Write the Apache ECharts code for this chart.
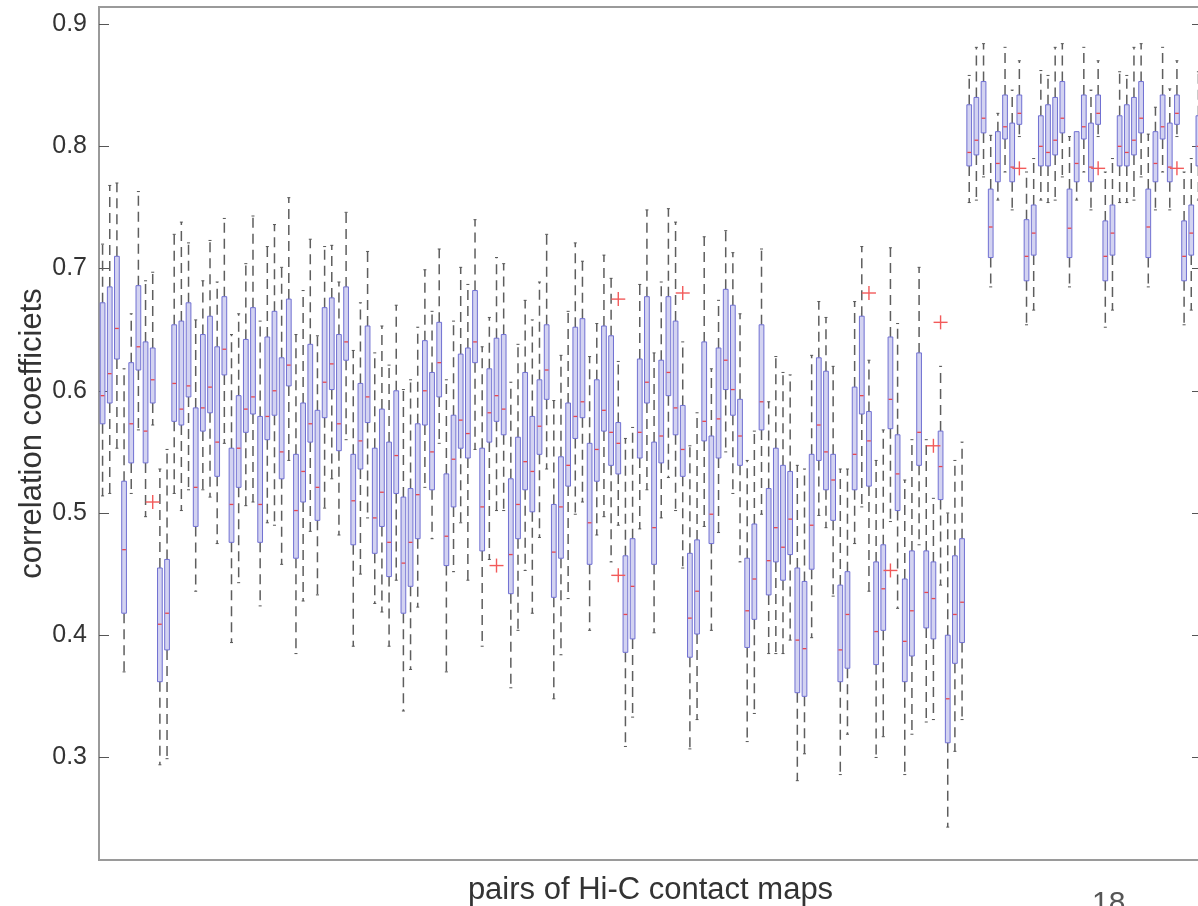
<!DOCTYPE html>
<html>
<head>
<meta charset="utf-8">
<title>correlation coefficients of Hi-C contact map pairs</title>
<script src="https://cdn.jsdelivr.net/npm/echarts@6/dist/echarts.min.js"></script>
<style>
  html, body { margin: 0; padding: 0; background: #fff; }
  #chart { width: 1198px; height: 906px; }
</style>
</head>
<body>
<div id="chart"></div>
<script>
// box statistics per pair of contact maps
const whiskerLow = [
  0.514, 0.516, 0.553, 0.370, 0.516, 0.568, 0.497, 0.572, 0.294, 0.299,
  0.516, 0.502, 0.519, 0.436, 0.519, 0.513, 0.475, 0.557, 0.394, 0.443,
  0.506, 0.509, 0.424, 0.492, 0.490, 0.458, 0.543, 0.385, 0.428, 0.485,
  0.433, 0.504, 0.528, 0.482, 0.560, 0.391, 0.450, 0.496, 0.426, 0.419,
  0.391, 0.445, 0.338, 0.372, 0.423, 0.521, 0.479, 0.557, 0.370, 0.452,
  0.492, 0.445, 0.552, 0.391, 0.462, 0.502, 0.502, 0.357, 0.404, 0.453,
  0.418, 0.480, 0.536, 0.348, 0.384, 0.430, 0.499, 0.509, 0.404, 0.482,
  0.497, 0.460, 0.490, 0.309, 0.333, 0.487, 0.519, 0.402, 0.496, 0.529,
  0.502, 0.455, 0.307, 0.331, 0.489, 0.404, 0.484, 0.550, 0.516, 0.460,
  0.313, 0.336, 0.499, 0.385, 0.385, 0.385, 0.396, 0.281, 0.303, 0.398,
  0.498, 0.488, 0.432, 0.286, 0.319, 0.475, 0.505, 0.436, 0.300, 0.317,
  0.493, 0.422, 0.286, 0.319, 0.474, 0.329, 0.331, 0.441, 0.243, 0.305, 0.331,
  0.754, 0.756, 0.775, 0.685, 0.756, 0.779, 0.748, 0.808, 0.654, 0.666, 0.756,
  0.754, 0.756, 0.775, 0.685, 0.756, 0.779, 0.748, 0.808, 0.652, 0.666, 0.754,
  0.754, 0.756, 0.775, 0.685, 0.748, 0.779, 0.748, 0.808, 0.654, 0.666, 0.756
]
const q1 = [
  0.573, 0.590, 0.626, 0.418, 0.541, 0.617, 0.541, 0.590, 0.362, 0.388,
  0.575, 0.572, 0.595, 0.489, 0.567, 0.582, 0.530, 0.613, 0.476, 0.521,
  0.566, 0.581, 0.476, 0.560, 0.580, 0.528, 0.604, 0.463, 0.509, 0.558,
  0.494, 0.578, 0.601, 0.551, 0.625, 0.474, 0.536, 0.574, 0.467, 0.489,
  0.448, 0.516, 0.418, 0.440, 0.479, 0.572, 0.519, 0.595, 0.457, 0.505,
  0.553, 0.545, 0.623, 0.469, 0.558, 0.575, 0.564, 0.434, 0.479, 0.519,
  0.501, 0.548, 0.593, 0.431, 0.463, 0.522, 0.561, 0.578, 0.458, 0.526,
  0.567, 0.539, 0.532, 0.386, 0.397, 0.545, 0.590, 0.458, 0.541, 0.596,
  0.564, 0.530, 0.382, 0.401, 0.559, 0.475, 0.545, 0.601, 0.580, 0.539,
  0.390, 0.413, 0.568, 0.433, 0.460, 0.445, 0.466, 0.353, 0.350, 0.454,
  0.543, 0.519, 0.494, 0.362, 0.373, 0.519, 0.581, 0.522, 0.376, 0.404,
  0.569, 0.502, 0.362, 0.383, 0.539, 0.406, 0.397, 0.511, 0.312, 0.377, 0.394,
  0.784, 0.793, 0.811, 0.709, 0.771, 0.806, 0.771, 0.818, 0.690, 0.711, 0.784,
  0.784, 0.793, 0.811, 0.709, 0.771, 0.806, 0.771, 0.818, 0.690, 0.711, 0.784,
  0.784, 0.793, 0.811, 0.709, 0.771, 0.806, 0.771, 0.818, 0.690, 0.711, 0.784
]
const median = [
  0.596, 0.614, 0.651, 0.470, 0.573, 0.636, 0.567, 0.609, 0.409, 0.418,
  0.606, 0.585, 0.604, 0.521, 0.586, 0.603, 0.558, 0.634, 0.507, 0.553,
  0.585, 0.595, 0.507, 0.579, 0.600, 0.550, 0.621, 0.502, 0.534, 0.573,
  0.521, 0.607, 0.622, 0.573, 0.640, 0.510, 0.559, 0.595, 0.496, 0.517,
  0.476, 0.547, 0.459, 0.476, 0.515, 0.600, 0.550, 0.623, 0.481, 0.544,
  0.576, 0.565, 0.640, 0.505, 0.582, 0.596, 0.585, 0.466, 0.507, 0.542,
  0.534, 0.571, 0.617, 0.468, 0.505, 0.539, 0.579, 0.591, 0.492, 0.552,
  0.584, 0.566, 0.557, 0.417, 0.440, 0.566, 0.607, 0.488, 0.563, 0.615,
  0.586, 0.552, 0.414, 0.436, 0.575, 0.499, 0.577, 0.625, 0.601, 0.563,
  0.420, 0.446, 0.591, 0.461, 0.488, 0.472, 0.495, 0.396, 0.389, 0.490,
  0.572, 0.550, 0.527, 0.388, 0.417, 0.548, 0.596, 0.559, 0.403, 0.438,
  0.593, 0.532, 0.395, 0.420, 0.566, 0.435, 0.430, 0.538, 0.348, 0.417, 0.427,
  0.795, 0.805, 0.823, 0.734, 0.786, 0.816, 0.783, 0.827, 0.710, 0.729, 0.800,
  0.795, 0.805, 0.823, 0.733, 0.786, 0.816, 0.783, 0.827, 0.710, 0.729, 0.800,
  0.795, 0.805, 0.823, 0.734, 0.786, 0.816, 0.783, 0.827, 0.710, 0.729, 0.800
]
const q3 = [
  0.672, 0.685, 0.710, 0.526, 0.623, 0.686, 0.640, 0.635, 0.455, 0.462,
  0.654, 0.657, 0.672, 0.586, 0.646, 0.661, 0.636, 0.677, 0.553, 0.596,
  0.642, 0.668, 0.579, 0.644, 0.665, 0.627, 0.675, 0.548, 0.590, 0.638,
  0.584, 0.668, 0.676, 0.646, 0.685, 0.548, 0.606, 0.653, 0.553, 0.585,
  0.558, 0.600, 0.513, 0.520, 0.573, 0.641, 0.615, 0.656, 0.532, 0.580,
  0.630, 0.635, 0.682, 0.553, 0.618, 0.643, 0.646, 0.528, 0.562, 0.615,
  0.579, 0.609, 0.654, 0.507, 0.546, 0.590, 0.652, 0.659, 0.557, 0.609,
  0.653, 0.645, 0.574, 0.465, 0.479, 0.626, 0.677, 0.558, 0.625, 0.677,
  0.657, 0.588, 0.467, 0.478, 0.640, 0.563, 0.635, 0.683, 0.670, 0.593,
  0.463, 0.491, 0.654, 0.520, 0.553, 0.539, 0.534, 0.455, 0.444, 0.548,
  0.627, 0.616, 0.548, 0.441, 0.452, 0.603, 0.661, 0.583, 0.460, 0.474,
  0.644, 0.564, 0.446, 0.469, 0.631, 0.469, 0.460, 0.567, 0.400, 0.465, 0.479,
  0.834, 0.840, 0.853, 0.765, 0.812, 0.842, 0.819, 0.842, 0.740, 0.752, 0.825,
  0.834, 0.840, 0.853, 0.765, 0.812, 0.842, 0.819, 0.842, 0.739, 0.752, 0.825,
  0.834, 0.840, 0.853, 0.765, 0.812, 0.842, 0.819, 0.842, 0.739, 0.752, 0.825
]
const whiskerHigh = [
  0.720, 0.768, 0.770, 0.618, 0.663, 0.763, 0.690, 0.697, 0.536, 0.552,
  0.728, 0.738, 0.721, 0.658, 0.690, 0.723, 0.689, 0.741, 0.646, 0.663,
  0.704, 0.743, 0.657, 0.718, 0.736, 0.701, 0.758, 0.646, 0.682, 0.724,
  0.645, 0.718, 0.719, 0.689, 0.746, 0.633, 0.672, 0.714, 0.631, 0.653,
  0.621, 0.670, 0.601, 0.609, 0.652, 0.699, 0.665, 0.716, 0.609, 0.657,
  0.701, 0.687, 0.740, 0.636, 0.660, 0.709, 0.704, 0.607, 0.638, 0.674,
  0.658, 0.689, 0.728, 0.592, 0.629, 0.665, 0.721, 0.706, 0.628, 0.655,
  0.711, 0.692, 0.624, 0.561, 0.570, 0.687, 0.748, 0.631, 0.689, 0.749,
  0.738, 0.640, 0.555, 0.582, 0.726, 0.618, 0.674, 0.731, 0.713, 0.663,
  0.543, 0.567, 0.716, 0.591, 0.628, 0.615, 0.613, 0.539, 0.536, 0.629,
  0.673, 0.660, 0.620, 0.536, 0.536, 0.673, 0.718, 0.625, 0.543, 0.568,
  0.717, 0.655, 0.527, 0.560, 0.701, 0.560, 0.512, 0.620, 0.500, 0.543, 0.558,
  0.858, 0.881, 0.884, 0.809, 0.827, 0.881, 0.846, 0.870, 0.779, 0.790, 0.862,
  0.858, 0.881, 0.884, 0.808, 0.810, 0.881, 0.846, 0.870, 0.779, 0.790, 0.861,
  0.858, 0.881, 0.884, 0.810, 0.832, 0.881, 0.847, 0.870, 0.779, 0.790, 0.861
]
// [pair number, value]
const outliers = [
  [8, 0.509], [56, 0.457], [73, 0.675], [73, 0.449], [82, 0.680], [108, 0.680],
  [111, 0.453], [117, 0.555], [118, 0.656], [129, 0.782], [140, 0.782], [151, 0.782]
]
const yTicks = [0.3, 0.4, 0.5, 0.6, 0.7, 0.8, 0.9]
const pairs = whiskerLow.map((_, i) => String(i + 1))

const FONT = '"Liberation Sans", Arial, Helvetica, sans-serif'

const boxData = pairs.map((_, i) => [i, whiskerLow[i], q1[i], median[i], q3[i], whiskerHigh[i]])
const outlierData = outliers.map(o => [o[0] - 1, o[1]])

// draws one matlab-style box: dashed whiskers, tiny caps, box, red median
function renderBox(params, api) {
  const idx = api.value(0)
  const band = api.size([1, 0])[0]
  const w = band * 0.66
  const low = api.coord([idx, api.value(1)])
  const b1 = api.coord([idx, api.value(2)])
  const med = api.coord([idx, api.value(3)])
  const b3 = api.coord([idx, api.value(4)])
  const high = api.coord([idx, api.value(5)])
  const x = b1[0]
  const dash = { stroke: '#5e5e5e', lineWidth: 1.5, lineDash: [10, 6] }
  const cap = { stroke: '#555', lineWidth: 1 }
  return {
    type: 'group',
    children: [
      { type: 'line', shape: { x1: x, y1: b3[1], x2: x, y2: high[1] }, style: dash },
      { type: 'line', shape: { x1: x, y1: b1[1], x2: x, y2: low[1] }, style: dash },
      { type: 'line', shape: { x1: x - 1.5, y1: high[1], x2: x + 1.5, y2: high[1] }, style: cap },
      { type: 'line', shape: { x1: x - 1.5, y1: low[1], x2: x + 1.5, y2: low[1] }, style: cap },
      {
        type: 'rect',
        shape: { x: x - w / 2, y: b3[1], width: w, height: b1[1] - b3[1] },
        style: { fill: '#d3d3f1', stroke: '#7070d2', lineWidth: 1 }
      },
      {
        type: 'line',
        shape: { x1: x - w / 2 + 0.5, y1: med[1], x2: x + w / 2 - 0.5, y2: med[1] },
        style: { stroke: '#e8484f', lineWidth: 1.3 }
      }
    ]
  }
}

function renderOutlier(params, api) {
  const p = api.coord([api.value(0), api.value(1)])
  const r = 7
  const st = { stroke: '#f25a5a', lineWidth: 1.4 }
  return {
    type: 'group',
    children: [
      { type: 'line', shape: { x1: p[0] - r, y1: p[1], x2: p[0] + r, y2: p[1] }, style: st },
      { type: 'line', shape: { x1: p[0], y1: p[1] - r, x2: p[0], y2: p[1] + r }, style: st }
    ]
  }
}

const chart = echarts.init(document.getElementById('chart'))

const option = {
  backgroundColor: '#fff',
  animation: false,
  grid: {
    left: 99,
    top: 7,
    width: 1103,
    bottom: 46,
    outerBoundsMode: 'none',
    containLabel: false,
    show: true,
    borderColor: '#9a9a9a',
    borderWidth: 2
  },
  xAxis: {
    type: 'category',
    data: pairs,
    boundaryGap: true,
    axisLine: { show: false },
    axisTick: { show: false },
    axisLabel: { show: false },
    splitLine: { show: false },
    name: 'pairs of Hi-C contact maps',
    nameLocation: 'middle',
    nameGap: 15,
    nameTextStyle: { fontFamily: FONT, fontSize: 31, color: '#333' }
  },
  yAxis: [
    {
      type: 'value',
      position: 'left',
      min: 0.2161,
      max: 0.914,
      axisLine: { show: false },
      axisTick: { show: true, inside: true, length: 10, customValues: yTicks, lineStyle: { color: '#555', width: 1 } },
      axisLabel: {
        customValues: yTicks,
        formatter: v => v.toFixed(1),
        fontFamily: FONT,
        fontSize: 25,
        color: '#333',
        margin: 12
      },
      splitLine: { show: false },
      name: 'correlation coefficiets',
      nameLocation: 'middle',
      nameMoveOverlap: false,
      nameGap: 51,
      nameTextStyle: { fontFamily: FONT, fontSize: 31, color: '#333' }
    },
    {
      type: 'value',
      position: 'right',
      min: 0.2161,
      max: 0.914,
      axisLine: { show: false },
      axisTick: { show: true, inside: true, length: 10, customValues: yTicks, lineStyle: { color: '#555', width: 1 } },
      axisLabel: { show: false },
      splitLine: { show: false }
    }
  ],
  series: [
    {
      type: 'custom',
      name: 'boxes',
      renderItem: renderBox,
      encode: { x: 0, y: [1, 2, 3, 4, 5] },
      data: boxData,
      z: 2
    },
    {
      type: 'custom',
      name: 'outliers',
      renderItem: renderOutlier,
      encode: { x: 0, y: 1 },
      data: outlierData,
      z: 3
    }
  ],
  graphic: [
    {
      type: 'text',
      left: 1092,
      top: 889,
      style: { text: '18', fontFamily: FONT, fontSize: 30, fill: '#555' }
    }
  ]
}

chart.setOption(option)
</script>
</body>
</html>
